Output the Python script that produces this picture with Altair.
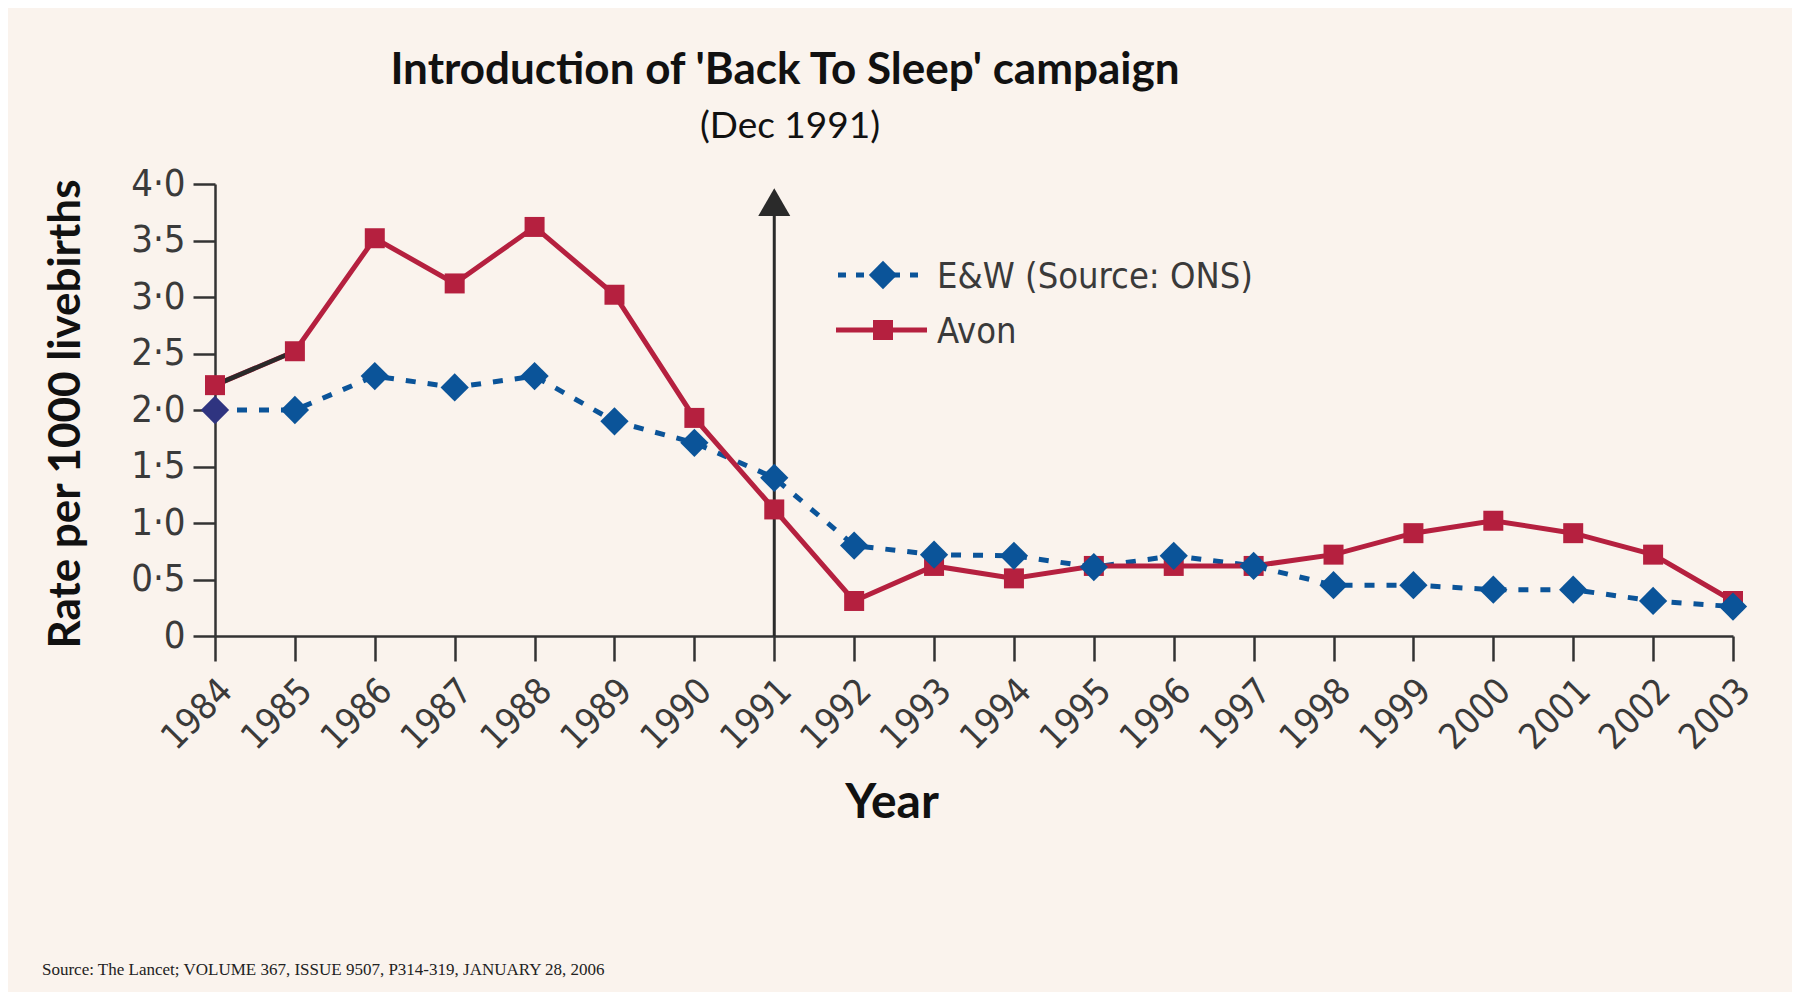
import altair as alt
import pandas as pd

# ---- data ----
YEARS = list(range(1984, 2004))
AVON = [2.22, 2.52, 3.52, 3.12, 3.62, 3.02, 1.93, 1.12, 0.31, 0.62, 0.51, 0.62, 0.62, 0.62, 0.72, 0.91, 1.02, 0.91, 0.72, 0.31]
EW = [2.0, 2.0, 2.3, 2.2, 2.3, 1.9, 1.71, 1.4, 0.8, 0.72, 0.71, 0.61, 0.71, 0.62, 0.45, 0.45, 0.41, 0.41, 0.31, 0.26]
Y_TICKS = [0, 0.5, 1.0, 1.5, 2.0, 2.5, 3.0, 3.5, 4.0]
SERIES_NAMES = ["E&W (Source: ONS)", "Avon"]
ARROW_YEAR = [1991]
ARROW_TOP = [3.72]
ARROW_HEAD = [3.84]

TITLE = "Introduction of 'Back To Sleep' campaign"
SUBTITLE = "(Dec 1991)"
Y_TITLE = "Rate per 1000 livebirths"
X_TITLE = "Year"
SOURCE = "Source: The Lancet; VOLUME 367, ISSUE 9507, P314-319, JANUARY 28, 2006"

RED = "#b5203f"
BLUE = "#0b5499"
DARK = "#2a2a2a"
BG = "#faf3ed"
TICK_FONT = "Liberation Sans Narrow, DejaVu Sans Condensed, sans-serif"
BOLD_FONT = "Lato, Open Sans, sans-serif"

df = pd.DataFrame({"year": YEARS, "avon": AVON, "ew": EW})
arrow_df = pd.DataFrame({"year": ARROW_YEAR, "top": ARROW_TOP, "head": ARROW_HEAD})

xs = alt.Scale(domain=[1984, 2003], nice=False, zero=False)
ys = alt.Scale(domain=[0, 4], nice=False)

x_enc = alt.X("year:Q", scale=xs, title=None,
              axis=alt.Axis(values=YEARS, format="d", labelAngle=-45, labelAlign="right",
                            labelBaseline="middle", labelPadding=24, labelOffset=11,
                            tickSize=25, labelFontSize=36, grid=False, labelFlush=False,
                            labelOverlap=False))
y_axis = alt.Axis(values=Y_TICKS, tickSize=22, labelPadding=8, labelFontSize=38, grid=False,
                  labelExpr="datum.value == 0 ? '0' : replace(format(datum.value, '.1f'), '.', '·')")

base = alt.Chart(df)

ew_line = base.mark_line(color=BLUE, strokeWidth=5, strokeDash=[10, 12]).encode(
    x=x_enc, y=alt.Y("ew:Q", scale=ys, title=None, axis=y_axis))
avon_line = base.mark_line(color=RED, strokeWidth=5).encode(
    x=alt.X("year:Q", scale=xs), y=alt.Y("avon:Q", scale=ys))
avon_first = base.transform_filter("datum.year <= 1985").mark_line(color=DARK, strokeWidth=4.5).encode(
    x=alt.X("year:Q", scale=xs), y=alt.Y("avon:Q", scale=ys))

arrow_line = alt.Chart(arrow_df).mark_rule(color=DARK, strokeWidth=3).encode(
    x=alt.X("year:Q", scale=xs), y=alt.Y("top:Q", scale=ys), y2=alt.datum(0))
arrow_head = alt.Chart(arrow_df).mark_point(shape="triangle-up", filled=True, color=DARK,
                                            size=1024, opacity=1).encode(
    x=alt.X("year:Q", scale=xs), y=alt.Y("head:Q", scale=ys))

avon_pts = base.mark_point(shape="square", filled=True, size=400, opacity=1, color=RED).encode(
    x=alt.X("year:Q", scale=xs), y=alt.Y("avon:Q", scale=ys))
ew_pts = base.mark_point(shape="diamond", filled=True, size=800, opacity=1).encode(
    x=alt.X("year:Q", scale=xs), y=alt.Y("ew:Q", scale=ys),
    color=alt.condition("datum.year == 1984", alt.value("#2f3480"), alt.value(BLUE)))

# ---- legend (drawn manually) ----
leg_df = pd.DataFrame({"name": SERIES_NAMES})
leg_ew = alt.Chart(leg_df).transform_filter(alt.FieldEqualPredicate(field="name", equal=SERIES_NAMES[0]))
leg_av = alt.Chart(leg_df).transform_filter(alt.FieldEqualPredicate(field="name", equal=SERIES_NAMES[1]))
leg_layers = [
    leg_ew.mark_rule(color=BLUE, strokeWidth=5, strokeDash=[8, 10]).encode(
        x=alt.value(623), x2=alt.value(712), y=alt.value(91)),
    leg_ew.mark_point(shape="diamond", filled=True, size=800, opacity=1, color=BLUE).encode(
        x=alt.value(668), y=alt.value(91)),
    leg_ew.mark_text(align="left", baseline="middle", font=TICK_FONT, fontSize=36, color="#3a3a3a").encode(
        x=alt.value(722), y=alt.value(93), text="name:N"),
    leg_av.mark_rule(color=RED, strokeWidth=5).encode(
        x=alt.value(621), x2=alt.value(712), y=alt.value(146)),
    leg_av.mark_point(shape="square", filled=True, size=400, opacity=1, color=RED).encode(
        x=alt.value(668), y=alt.value(146)),
    leg_av.mark_text(align="left", baseline="middle", font=TICK_FONT, fontSize=36, color="#3a3a3a").encode(
        x=alt.value(722), y=alt.value(148), text="name:N"),
]

# ---- titles / annotations ----
txt_df = pd.DataFrame({"t": [TITLE, SUBTITLE, Y_TITLE, X_TITLE, SOURCE]})


def txt(i):
    return alt.Chart(txt_df).transform_filter(alt.FieldEqualPredicate(field="t", equal=txt_df.t[i]))


title_t = txt(0).mark_text(font=BOLD_FONT, fontWeight="bold", fontSize=44, color="#111",
                           align="center", baseline="middle").encode(
    x=alt.value(570), y=alt.value(-113), text="t:N")
sub_t = txt(1).mark_text(font=BOLD_FONT, fontSize=37, color="#111",
                         align="center", baseline="middle").encode(
    x=alt.value(575), y=alt.value(-57), text="t:N")
ytitle_t = txt(2).mark_text(font=BOLD_FONT, fontWeight="bold", fontSize=44, color="#111",
                            align="center", baseline="middle", angle=270).encode(
    x=alt.value(-148), y=alt.value(230), text="t:N")
xtitle_t = txt(3).mark_text(font=BOLD_FONT, fontWeight="bold", fontSize=48, color="#111",
                            align="center", baseline="middle").encode(
    x=alt.value(677), y=alt.value(620), text="t:N")
source_t = txt(4).mark_text(font="Liberation Serif, DejaVu Serif, serif", fontSize=17, color="#222",
                            align="left", baseline="middle").encode(
    x=alt.value(-173), y=alt.value(786), text="t:N")

chart = alt.layer(
    ew_line, avon_line, avon_first, arrow_line, arrow_head, avon_pts, ew_pts,
    *leg_layers, title_t, sub_t, ytitle_t, xtitle_t, source_t
).properties(
    width=1518, height=452,
    autosize=alt.AutoSizeParams(type="none"),
    padding={"left": 207, "top": 176, "right": 59, "bottom": 356},
    background=BG,
).configure_view(stroke=None).configure_axis(
    domainColor="#333", domainWidth=2.5, tickColor="#333", tickWidth=2.5,
    labelColor="#3a3a3a", labelFont=TICK_FONT,
)

chart.save("out.html", embed_options={"renderer": "svg", "actions": False})
